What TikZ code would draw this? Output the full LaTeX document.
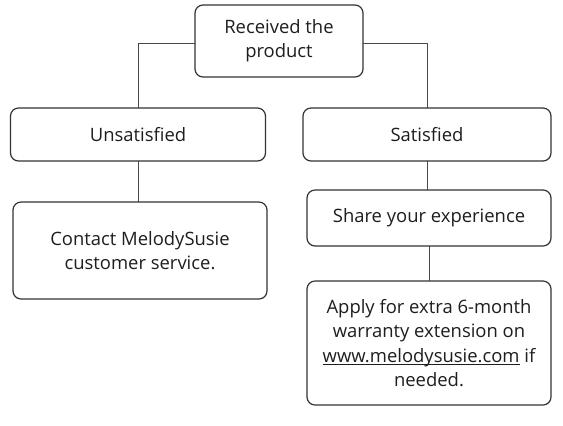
\documentclass[tikz,border=0pt]{standalone}
\usepackage{fontspec}
\setmainfont{Open Sans}
\usepackage{tikz}
\usetikzlibrary{positioning}

\definecolor{boxline}{HTML}{333333}
\definecolor{textgray}{HTML}{1E1E1E}

\newcommand{\weblink}[1]{\setbox0\hbox{#1}\rlap{\rule[-2.2pt]{\wd0}{0.6pt}}\box0\relax}

\tikzset{
  stagebox/.style={draw=boxline, line width=1.2pt, rounded corners=8bp, fill=white,
    text=textgray, align=center, inner sep=0pt, outer sep=0pt,
    font=\fontsize{18.5}{24.5}\selectfont},
  link/.style={draw=boxline!90, line width=0.8pt}
}

\begin{document}
\begin{tikzpicture}[line cap=round,line join=round, x=1bp,y=-1bp]
\useasboundingbox (0,0) rectangle (563,425);
\node[stagebox, minimum width=168bp, minimum height=72bp] (recv) at (279,41) {Received the\\product};
\node[stagebox, minimum width=255bp, minimum height=53bp] (unsat) at (138,134.5) {Unsatisfied};
\node[stagebox, minimum width=248bp, minimum height=53bp] (sat) at (427,134.5) {Satisfied};
\node[stagebox, minimum width=254bp, minimum height=97bp] (contact) at (140,250.5) {Contact MelodySusie\\customer service.};
\node[stagebox, minimum width=244bp, minimum height=56bp] (share) at (429,218) {Share your experience};
\node[stagebox, minimum width=244bp, minimum height=124bp] (apply) at (429,343) {Apply for extra 6-month\\warranty extension on\\\weblink{www.melodysusie.com} if\\needed.};
% connectors
\draw[link] ([yshift=-2bp]recv.west) -| (unsat.north);
\draw[link] ([yshift=-2bp]recv.east) -| (sat.north);
\draw[link] (unsat.south) -- (unsat.south |- contact.north);
\draw[link] (sat.south) -- (sat.south |- share.north);
\draw[link] (share.south) -- (apply.north);
\end{tikzpicture}
\end{document}
